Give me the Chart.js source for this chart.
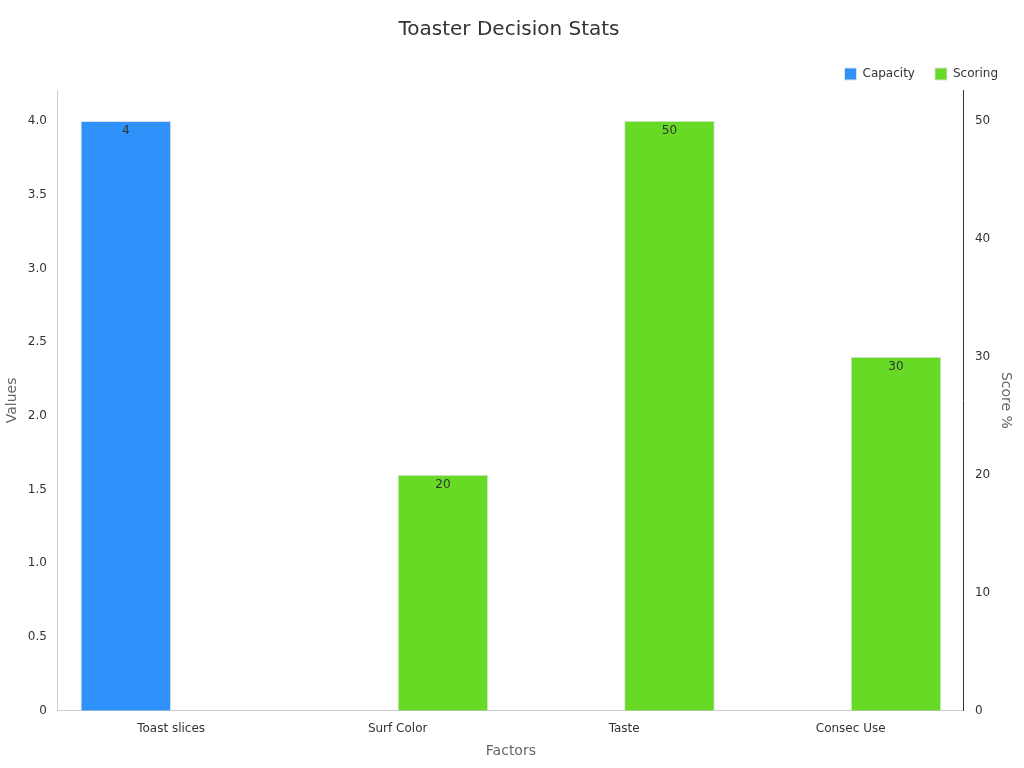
<!DOCTYPE html>
<html><head><meta charset="utf-8">
<script src="https://cdn.jsdelivr.net/npm/chart.js@4"></script>
<style>html,body{margin:0;background:#fff}#w{width:1024px;height:768px}</style>
</head><body><div id="w"><canvas id="c"></canvas></div>
<script>
const categories = ["Toast slices", "Surf Color", "Taste", "Consec Use"];
const capacityValues = [4, null, null, null];
const scoringValues = [null, 20, 50, 30];
const FONT = "'DejaVu Sans', sans-serif";
Chart.defaults.font.family = FONT;
const labelPlugin = {
  id: 'vals',
  afterDatasetsDraw(chart) {
    const ctx = chart.ctx;
    ctx.save();
    ctx.font = "12px " + FONT;
    ctx.fillStyle = '#333';
    ctx.textAlign = 'center';
    ctx.textBaseline = 'top';
    chart.data.datasets.forEach((ds, i) => {
      chart.getDatasetMeta(i).data.forEach((el, j) => {
        if (ds.data[j] == null) return;
        ctx.fillText(String(ds.data[j]), el.x, el.y + 4);
      });
    });
    ctx.restore();
  }
};
const filt = step => (axis) => { axis.ticks = axis.ticks.filter(t => Math.abs(t.value / step - Math.round(t.value / step)) < 1e-6); };
new Chart(document.getElementById('c'), {
  type: 'bar',
  data: {
    labels: categories,
    datasets: [
      { label: 'Capacity', data: capacityValues, backgroundColor: '#2f91fa', borderColor: '#e0e0e0', borderWidth: 1, yAxisID: 'y' },
      { label: 'Scoring', data: scoringValues, backgroundColor: '#67da26', borderColor: '#e0e0e0', borderWidth: 1, yAxisID: 'y1' }
    ]
  },
  options: {
    responsive: true, maintainAspectRatio: false, animation: false,
    layout: { padding: { left: 0, right: 6, top: 10, bottom: 4 } },
    categoryPercentage: 0.8, barPercentage: 1.0,
    plugins: {
      title: { display: true, text: 'Toaster Decision Stats', color: '#333', font: { size: 20, weight: 'normal' }, padding: { top: 8, bottom: 6 } },
      legend: { align: 'end', labels: { boxWidth: 12, boxHeight: 12, color: '#333', font: { size: 12 }, padding: 20 } },
      tooltip: { enabled: false }
    },
    scales: {
      x: { grid: { display: false, drawTicks: true }, border: { color: '#ccc' }, ticks: { color: '#333', font: { size: 12 } },
           title: { display: true, text: 'Factors', color: '#666', font: { size: 14 } } },
      y: { position: 'left', min: 0, max: 4.21, afterBuildTicks: filt(0.5), ticks: { stepSize: 0.5, color: '#333', font: { size: 12 } },
           grid: { display: false, drawTicks: true }, border: { color: '#ccc' },
           title: { display: true, text: 'Values', color: '#666', font: { size: 14 } } },
      y1: { position: 'right', min: 0, max: 52.6, afterBuildTicks: filt(10), ticks: { stepSize: 10, color: '#333', font: { size: 12 } },
           grid: { display: false, drawTicks: true }, border: { color: '#333' },
           title: { display: true, text: 'Score %', color: '#666', font: { size: 14 } } }
    }
  },
  plugins: [labelPlugin]
});
</script></body></html>
